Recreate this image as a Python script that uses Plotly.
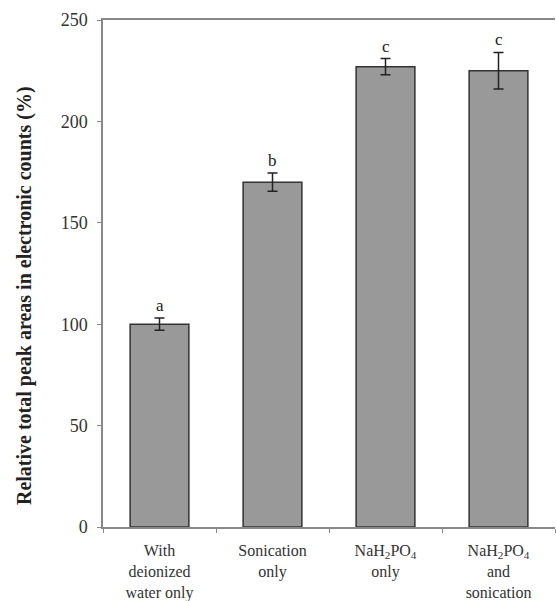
import plotly.graph_objects as go

categories = ["With<br>deionized<br>water only", "Sonication<br>only",
              "NaH<sub>2</sub>PO<sub>4</sub><br>only",
              "NaH<sub>2</sub>PO<sub>4</sub><br>and<br>sonication"]
values = [100, 170, 227, 225]
errors = [3, 4.5, 4, 9]
letters = ["a", "b", "c", "c"]
y_title = "Relative total peak areas in electronic counts (%)"

fig = go.Figure()
fig.add_trace(go.Bar(
    x=categories, y=values, width=0.52,
    marker=dict(color="#999999", line=dict(color="#333333", width=1.5)),
    error_y=dict(type="data", array=errors, color="#222222", thickness=1.5, width=5),
))
for c, v, e, l in zip(categories, values, errors, letters):
    fig.add_annotation(x=c, y=v + e, text=l, showarrow=False, yanchor="bottom", yshift=1,
                       font=dict(family="Liberation Serif", size=17, color="#222"))

fig.add_annotation(xref="paper", yref="paper", x=-0.172, y=0.456, text="<b>" + y_title + "</b>",
                   textangle=-90, showarrow=False, xanchor="center", yanchor="middle",
                   font=dict(family="Liberation Serif", size=20, color="#222"))

fig.update_layout(
    width=556, height=601, plot_bgcolor="white", paper_bgcolor="white",
    margin=dict(l=103, r=1, t=20, b=74, autoexpand=False), showlegend=False, bargap=0.48,
    font=dict(family="Liberation Serif", size=16, color="#333"),
)
fig.update_xaxes(showline=True, linecolor="#888888", linewidth=1.5, mirror=True,
                 ticks="outside", tickson="boundaries", ticklen=4, tickcolor="#888888",
                 ticklabelstandoff=8, automargin=False,
                 tickfont=dict(family="Liberation Serif", size=16, color="#333"))
fig.update_yaxes(range=[0, 250], dtick=50, showline=True, linecolor="#888888", linewidth=1.5,
                 showgrid=False, ticks="outside", ticklen=4, tickcolor="#888888",
                 ticklabelstandoff=6, automargin=False,
                 tickfont=dict(family="Liberation Serif", size=18, color="#333"))
fig.write_html("out.html")
